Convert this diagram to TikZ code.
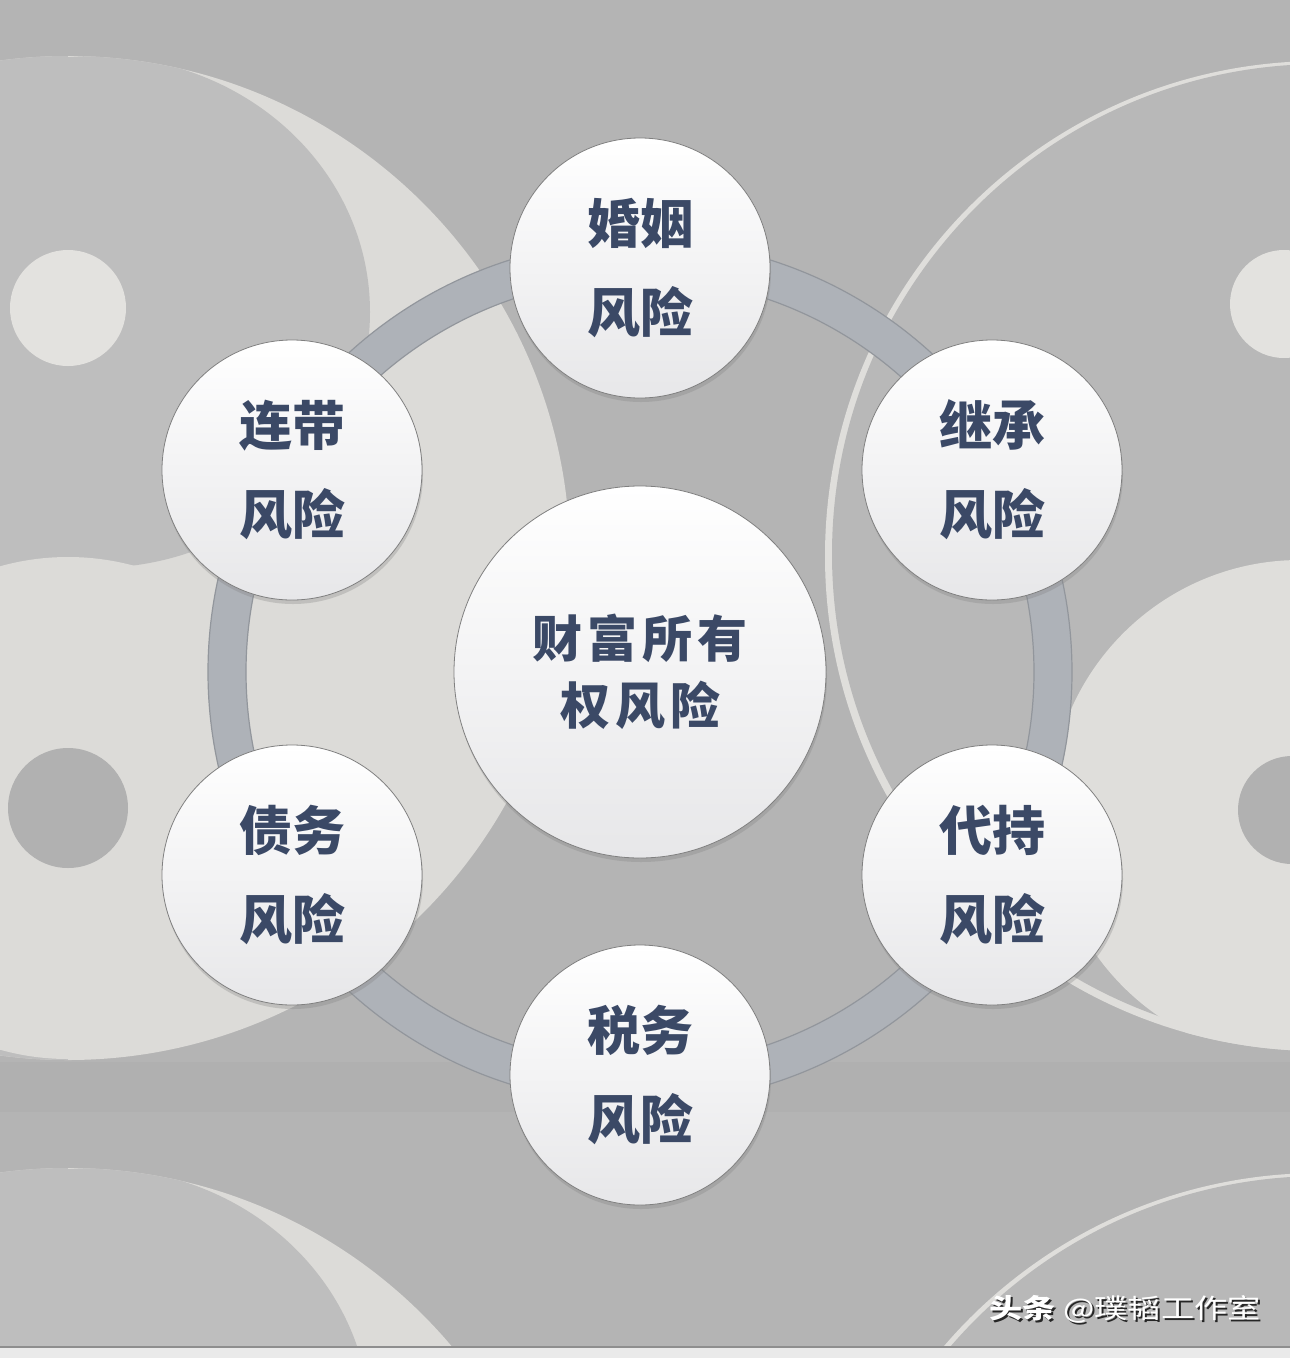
\documentclass[tikz,border=0pt]{standalone}
\usepackage{fontspec}
\newfontfamily\cjk{Noto Sans CJK SC}
\usetikzlibrary{shadows}
\definecolor{bgbase}{HTML}{B4B4B4}
\definecolor{yinlight}{HTML}{DCDBD8}
\definecolor{yindark}{HTML}{BEBEBE}
\definecolor{dotlight}{HTML}{E3E2DF}
\definecolor{dotdark}{HTML}{B1B1B1}
\definecolor{rightgray}{HTML}{B8B8B8}
\definecolor{rightlight}{HTML}{DFDEDB}
\definecolor{seam}{HTML}{B0B0B0}
\definecolor{ringfill}{HTML}{AEB2B8}
\definecolor{ringedge}{HTML}{92969C}
\definecolor{txt}{HTML}{3B4966}
\definecolor{cbot}{HTML}{E7E7E9}
\definecolor{cedge}{HTML}{808080}
\definecolor{stripcol}{HTML}{EAEAEA}
\definecolor{stripline}{HTML}{8E8E8E}
\tikzset{
  riskball/.style={circle, inner sep=0pt, minimum size=260pt,
    top color=white, middle color=white, bottom color=cbot, draw=cedge, line width=0.8pt,
    drop shadow={opacity=0.3, shadow xshift=1pt, shadow yshift=-4pt},
    text=txt, align=center,
    font=\cjk\bfseries\fontsize{53}{89}\selectfont},
  coreball/.style={riskball, minimum size=372pt,
    font=\cjk\bfseries\fontsize{50}{67}\selectfont\addfontfeature{LetterSpace=10}},
  wmark/.style={inner sep=0pt, anchor=east, xscale=1.23,
    font=\cjk\fontsize{27}{30}\selectfont}
}
\newcommand\mybgtile{%
  \begin{scope}
    \clip (68,558) circle[radius=502];
    \fill[yinlight] (-450,0) rectangle (600,1112);
    \fill[yindark] (-450,0) rectangle (68,1112);
    \fill[yindark] (95,312) ellipse[x radius=275, y radius=256];
    \fill[yinlight] (68,808) circle[radius=251];
    \fill[dotlight] (68,308) circle[radius=58];
    \fill[dotdark] (68,808) circle[radius=60];
  \end{scope}
  \begin{scope}
    \clip (1320,556) circle[radius=495];
    \fill[rightlight] (800,0) rectangle (1850,1112);
    \fill[rightgray] (1322,554) circle[radius=490];
    \fill[rightlight] (1300,810) circle[radius=250];
    \fill[dotlight] (1284,304) circle[radius=54];
    \fill[dotdark] (1292,810) circle[radius=54];
  \end{scope}
  \fill[seam] (0,1062) rectangle (1290,1112);
}
\begin{document}
\begin{tikzpicture}[x=1pt,y=-1pt]
\useasboundingbox (0,0) rectangle (1290,1358);
\fill[bgbase] (0,0) rectangle (1290,1358);
\begin{scope}
  \clip (0,0) rectangle (1290,1347);
  \mybgtile
  \begin{scope}[shift={(0,1112)}]
    \mybgtile
  \end{scope}
\end{scope}
\fill[stripcol] (0,1347) rectangle (1290,1358);
\draw[stripline, line width=1.5pt] (0,1347) -- (1290,1347);

% ring
\draw[ringfill, line width=38pt] (640,672) circle[radius=413];
\draw[ringedge, line width=1.2pt] (640,672) circle[radius=432];
\draw[ringedge, line width=1.2pt] (640,672) circle[radius=394];

% circles
\node[coreball] (core) at (640,672) {财富所有\\权风险};
\node[riskball] (hunyin) at (640,268) {婚姻\\风险};
\node[riskball] (jicheng) at (992,470) {继承\\风险};
\node[riskball] (daichi) at (992,875) {代持\\风险};
\node[riskball] (shuiwu) at (640,1075) {税务\\风险};
\node[riskball] (zhaiwu) at (292,875) {债务\\风险};
\node[riskball] (liandai) at (292,470) {连带\\风险};

% watermark
\node[wmark, text=black!85] (wmshadow) at (1263,1311) {{\bfseries 头条} @璞韬工作室};
\node[wmark, text=white] (wm) at (1261,1309) {{\bfseries 头条} @璞韬工作室};
\end{tikzpicture}
\end{document}
